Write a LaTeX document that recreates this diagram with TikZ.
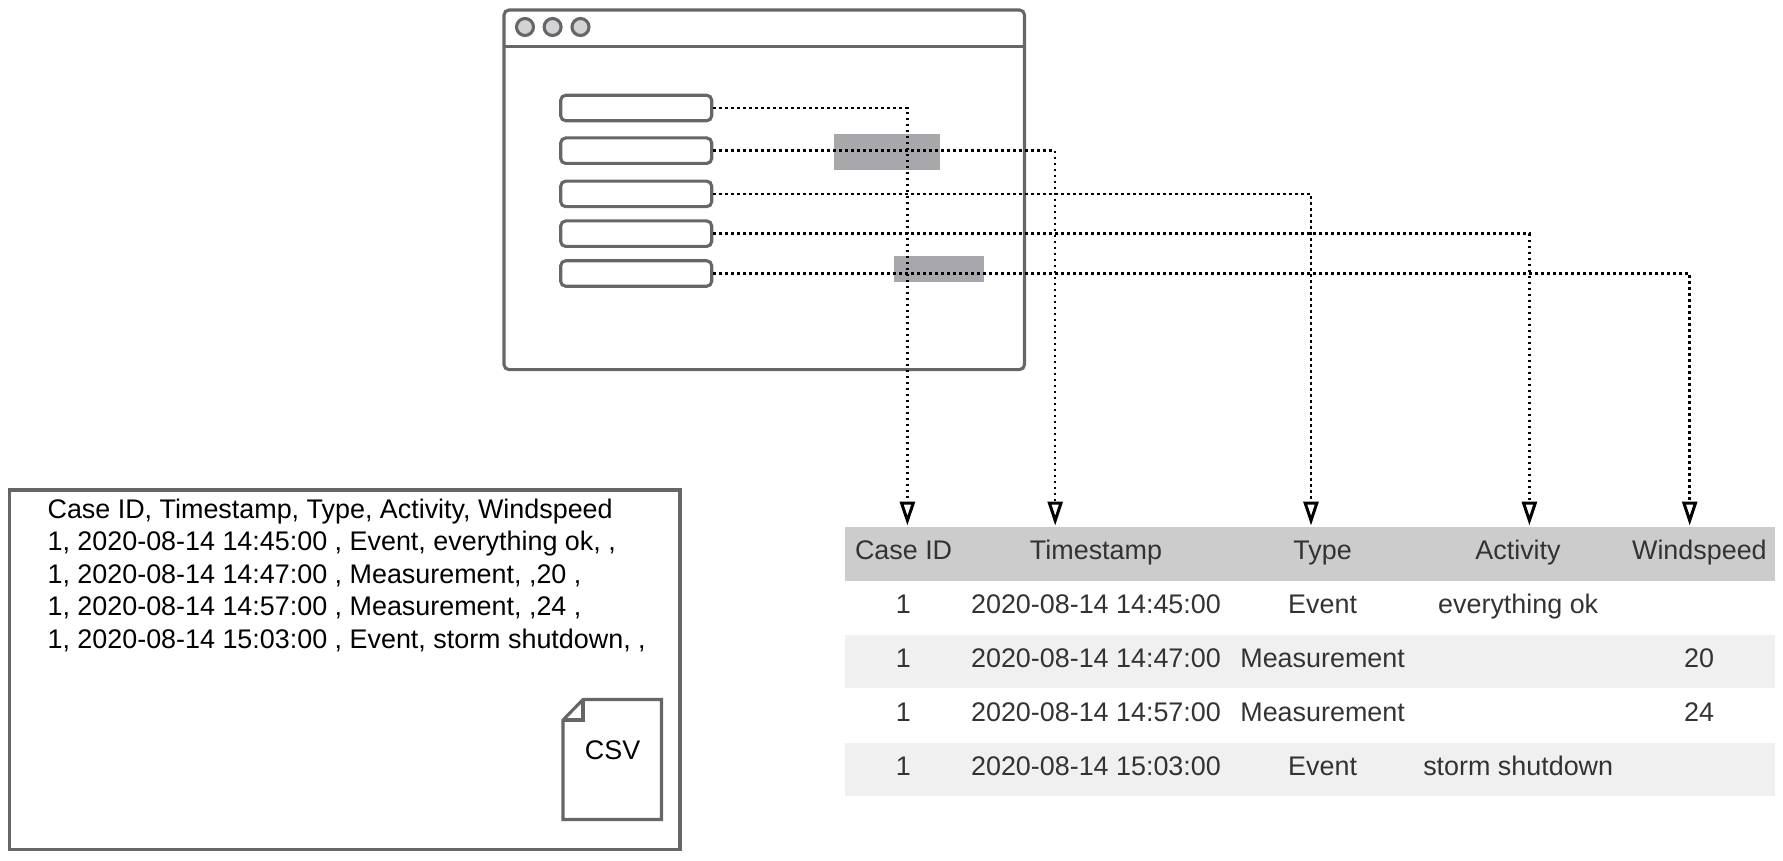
\documentclass[tikz,border=0pt]{standalone}
\usepackage{fontspec}
\setmainfont{Liberation Sans}
\usepackage{xcolor}
\usetikzlibrary{positioning,arrows.meta}
\definecolor{framegray}{HTML}{666666}
\definecolor{dotgray}{HTML}{D3D3D5}
\definecolor{hilite}{HTML}{A8A8AC}
\definecolor{headband}{HTML}{CCCCCC}
\definecolor{rowband}{HTML}{F0F0F0}
\definecolor{celltext}{HTML}{333333}
\tikzset{
  frameline/.style={draw=framegray, line width=3.1pt},
  fieldbox/.style={frameline, rounded corners=5pt, minimum width=151pt, minimum height=25.5pt, inner sep=0pt},
  linkarrow/.style={black, line width=2.5pt, dash pattern=on 2.5pt off 3.5pt,
    -{Triangle[open, length=24pt, width=15pt, line width=3pt]}},
  celltxt/.style={text=celltext, inner sep=0pt, anchor=base},
  filetxt/.style={text=black, inner sep=0pt}
}

\begin{document}
\begin{tikzpicture}[x=1pt, y=-1pt, font=\fontsize{26.9}{32.5}\selectfont]
\useasboundingbox (0,0) rectangle (1783,861);
% table bands
\fill[headband] (845,526.8) rectangle (1775,581);
\foreach \y in {635.2,743.2}{
  \fill[rowband] (845,\y) rectangle (1775,\y+52.8);
}
% form window with title bar
\draw[frameline, rounded corners=5pt] (504,10) rectangle (1024.5,369.6);
\draw[frameline] (504,46.6) -- (1024.5,46.6);
\foreach \x/\name in {525/one,552.6/two,580.5/three}{
  \node[circle, frameline, fill=dotgray, minimum size=17pt, inner sep=0pt] (dot\name) at (\x,27) {};
}
% highlighted spots behind the links
\fill[hilite] (833.8,134) rectangle (940.4,170);
\fill[hilite] (893.8,256) rectangle (984.2,282);
% input fields
\foreach \i/\y in {1/108,2/150.7,3/193.9,4/233.7,5/273.5}{
  \node[fieldbox] (field\i) at (636.2,\y) {};
}
% column arrow ends
\foreach \i/\x in {1/907.4,2/1055.2,3/1311,4/1529.4,5/1689.7}{
  \coordinate (col\i) at (\x,525.5);
  \draw[linkarrow] (field\i.east) -| (col\i);
}
% table header
\foreach \x/\lbl in {903.6/Case ID,1096/Timestamp,1322.6/Type,1518/Activity,1699.4/Windspeed}{
  \node[celltxt] (head\lbl) at (\x,559) {\lbl};
}
% table rows
\foreach \r/\y/\tm/\ty/\ac/\ws in {
  1/613/14:45:00/Event/everything ok/{},
  2/667/14:47:00/Measurement/{}/20,
  3/721/14:57:00/Measurement/{}/24,
  4/775/15:03:00/Event/storm shutdown/{}}{
  \node[celltxt] (case\r) at (903.4,\y) {1};
  \node[celltxt] (time\r) at (1096,\y) {2020-08-14 \tm};
  \node[celltxt] (type\r) at (1322.6,\y) {\ty};
  \node[celltxt] (act\r) at (1518.2,\y) {\ac};
  \node[celltxt] (wind\r) at (1699,\y) {\ws};
}
% csv box
\draw[frameline] (9.5,490) rectangle (680,849.4);
\node[filetxt, align=left, anchor=north west] (csvlines) at (47.4,498.6) {Case ID, Timestamp, Type, Activity, Windspeed\\
1, 2020-08-14 14:45:00 , Event, everything ok, ,\\
1, 2020-08-14 14:47:00 , Measurement, ,20 ,\\
1, 2020-08-14 14:57:00 , Measurement, ,24 ,\\
1, 2020-08-14 15:03:00 , Event, storm shutdown, ,};
% file icon
\draw[frameline] (563,720) -- (583,699.5) -- (661.5,699.5) -- (661.5,819.5) -- (563,819.5) -- cycle;
\draw[frameline] (563,720) -- (583,720) -- (583,699.5);
\node[filetxt] (csvname) at (612.6,750) {CSV};
\end{tikzpicture}
\end{document}
